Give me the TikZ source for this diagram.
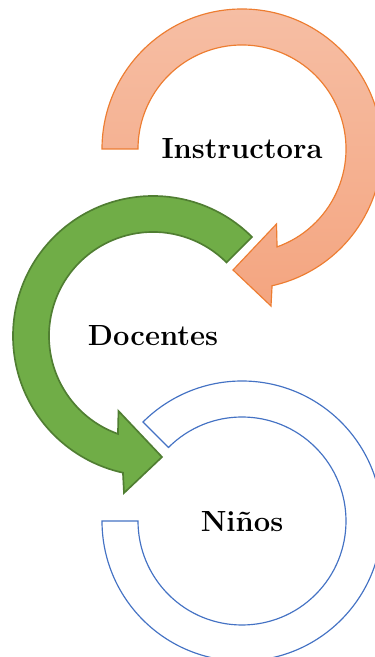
\documentclass[tikz,border=0pt]{standalone}
\usepackage{tikz}
\usetikzlibrary{calc}

\definecolor{lineOrange}{RGB}{237,125,49}
\definecolor{fillOrangeTop}{RGB}{246,190,164}
\definecolor{fillOrangeBot}{RGB}{244,165,128}
\definecolor{fillGreen}{RGB}{112,173,71}
\definecolor{lineGreen}{RGB}{80,126,50}
\definecolor{lineBlue}{RGB}{68,114,196}

\begin{document}
\begin{tikzpicture}[x=0.6pt, y=0.6pt,
        cyclelabel/.style={font=\fontsize{17.5}{20}\selectfont\bfseries, inner sep=0pt, text depth=0pt},
        orangearrow/.style={draw=lineOrange, line width=0.7pt, top color=fillOrangeTop, bottom color=fillOrangeBot},
        greenarrow/.style={draw=lineGreen, line width=1pt, fill=fillGreen},
        bluering/.style={draw=lineBlue, line width=0.7pt, fill=white}
    ]
        \clip (0,0) rectangle (375,657);

        % Centres of the three rings
        \coordinate (instrc) at (242,508);
        \coordinate (docc) at (153,321);
        \coordinate (ninosc) at (242,136);

        % Instructora arrow (clockwise)
        \draw[orangearrow] ($(instrc)+(180:140)$) arc[start angle=180, end angle=-77.6, radius=140]
            -- ($(instrc)+(29,-157)$) -- ($(instrc)+(-9,-121)$) -- ($(instrc)+(34.5,-75)$)
            -- ($(instrc)+(-70.3:104)$) arc[start angle=-70.3, end angle=180, radius=104] -- cycle;

        % Docentes arrow (counter-clockwise)
        \draw[greenarrow] ($(docc)+(45:140)$) arc[start angle=45, end angle=257.6, radius=140]
            -- ($(docc)+(-29,-157)$) -- ($(docc)+(9,-121)$) -- ($(docc)+(-34.5,-75)$)
            -- ($(docc)+(250.3:104)$) arc[start angle=250.3, end angle=45, radius=104] -- cycle;

        % Ninos ring
        \draw[bluering] ($(ninosc)+(180:140)$) arc[start angle=180, end angle=495, radius=140]
            -- ($(ninosc)+(135:104)$) arc[start angle=495, end angle=180, radius=104] -- cycle;

        % Labels
        \node[cyclelabel] (instr) at (instrc) {Instructora};
        \node[cyclelabel] (doc) at (docc) {Docentes};
        \node[cyclelabel] (ninos) at (ninosc) {Niños};
    \end{tikzpicture}
\end{document}
